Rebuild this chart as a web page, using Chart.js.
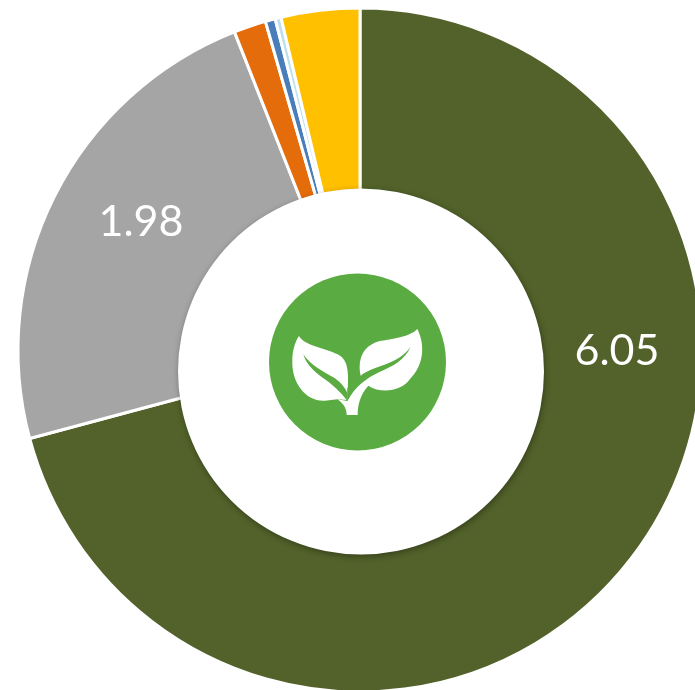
<!DOCTYPE html>
<html>
<head>
<meta charset="utf-8">
<style>
html,body{margin:0;padding:0;background:#fff;width:695px;height:690px;overflow:hidden}
#wrap{position:relative;width:695px;height:690px;overflow:hidden}
canvas{position:absolute;left:0;top:0}
</style>
<script src="https://cdn.jsdelivr.net/npm/chart.js@4"></script>
</head>
<body>
<div id="wrap"><canvas id="c" width="720" height="700"></canvas></div>
<script>
const categories = ["Green", "Grey", "Orange", "Blue", "Light blue", "Yellow"];
const seriesValues = [6.05, 1.98, 0.13, 0.04, 0.024, 0.317];
const sliceColors = ["#52622A", "#A5A5A5", "#E46C0A", "#4A7EBB", "#BDE0EE", "#FFC000"];
const labelledCategories = ["Green", "Grey"];

const overlay = {
  id: "overlay",
  afterDatasetsDraw(chart) {
    const ctx = chart.ctx;
    ctx.save();
    ctx.shadowColor = "rgba(0,0,0,0.35)";
    ctx.shadowBlur = 6;
    ctx.shadowOffsetX = 1;
    ctx.shadowOffsetY = 2;
    ctx.fillStyle = "#fff";
    ctx.beginPath();
    ctx.arc(361, 371.5, 183, 0, Math.PI * 2);
    ctx.fill();
    ctx.restore();

    ctx.save();
    ctx.fillStyle = "#5AAB41";
    ctx.beginPath();
    ctx.arc(357.5, 362, 88.5, 0, Math.PI * 2);
    ctx.fill();
    ctx.translate(260, 265);
    ctx.scale(1 / 3, 1 / 3);
    ctx.fillStyle = "#fff";
    ctx.fill(new Path2D("M117,213 C135,245 205,250 240,272 C270,292 265,340 262,405 L232,403 L195,407 C135,410 95,350 97,290 C96,260 105,230 117,213 Z"));
    ctx.fill(new Path2D("M262,408 L302,332 C290,270 320,238 360,228 C400,222 450,215 472,192 C496,240 492,300 450,342 C425,378 365,388 325,362 C300,390 293,420 293,450 L260,450 C260,430 250,415 232,403 Z"));
    ctx.fillStyle = "#5AAB41";
    ctx.fill(new Path2D("M130,268 C150,300 190,320 225,340 C245,355 258,372 262,385 L262,408 C250,390 230,370 205,350 C175,330 140,305 130,268 Z"));
    ctx.fill(new Path2D("M302,332 C340,300 415,300 452,245 C435,285 395,305 360,320 C320,338 285,365 262,408 L262,372 L270,345 Z"));
    ctx.restore();

    ctx.save();
    ctx.fillStyle = "#fff";
    ctx.font = '43px Lato';
    ctx.textAlign = "center";
    ctx.textBaseline = "middle";
    const anchors = { Green: [617, 351], Grey: [141, 222] };
    labelledCategories.forEach(name => {
      const i = categories.indexOf(name);
      ctx.fillText(seriesValues[i].toFixed(2), anchors[name][0], anchors[name][1]);
    });
    ctx.restore();
  }
};

new Chart(document.getElementById("c"), {
  type: "doughnut",
  data: {
    labels: categories,
    datasets: [{
      data: seriesValues,
      backgroundColor: sliceColors,
      borderColor: "#fff",
      borderWidth: 3
    }]
  },
  options: {
    responsive: false,
    animation: false,
    radius: 342,
    cutout: 140,
    events: [],
    layout: { padding: 0 },
    plugins: { legend: { display: false }, tooltip: { enabled: false } }
  },
  plugins: [overlay]
});
</script>
</body>
</html>
